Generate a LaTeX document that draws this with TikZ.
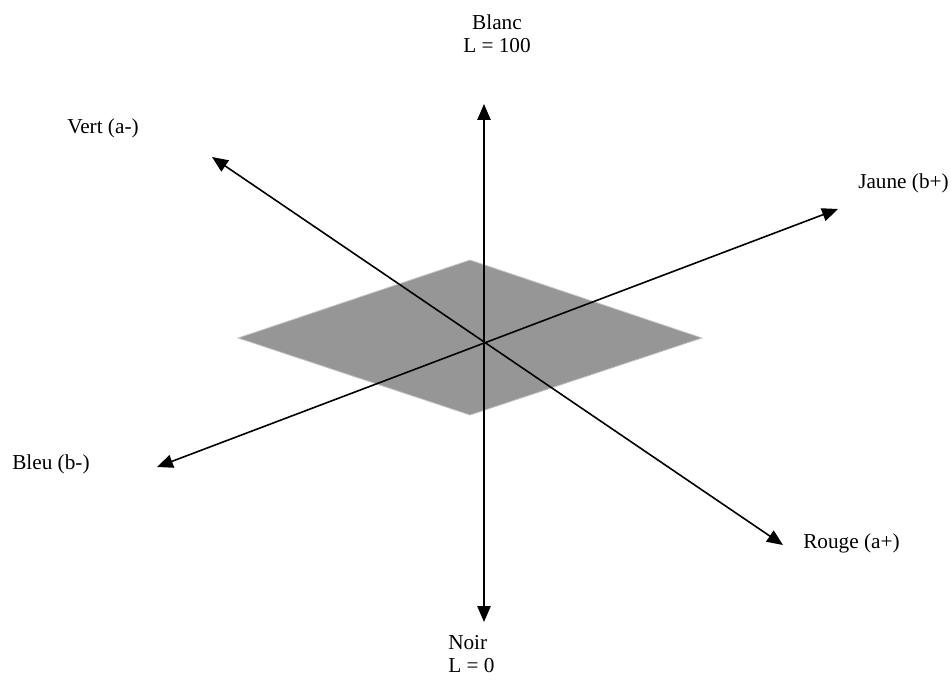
\documentclass[tikz,border=0pt]{standalone}
\usepackage{fontspec}
\setmainfont{Liberation Serif}
\usetikzlibrary{arrows.meta}

\begin{document}
\begin{tikzpicture}[x=0.02646cm, y=-0.02646cm,
    every node/.style={font=\fontsize{16}{17}\selectfont, inner sep=0pt, align=center},
    axe/.style={line width=1.2pt, {Triangle[length=12pt, width=10pt]}-{Triangle[length=12pt, width=10pt]}}]
    \useasboundingbox (0,0) rectangle (951,679);
    % plan a-b
    \filldraw[fill=black!41, draw=black!22, line width=0.6pt]
        (238,338) -- (470,260) -- (702,338) -- (470,415) -- cycle;
    % bouts des axes
    \coordinate (o) at (484,343);
    \coordinate (haut) at (484,104);
    \coordinate (bas) at (484,622);
    \coordinate (pvert) at (212,157);
    \coordinate (prouge) at (783,545);
    \coordinate (pbleu) at (157,467);
    \coordinate (pjaune) at (838,209);
    \draw[axe] (bas) -- (haut);
    \draw[axe] (pvert) -- (prouge);
    \draw[axe] (pbleu) -- (pjaune);
    % etiquettes
    \node (blanc) at (497,34) {Blanc\\L = 100};
    \node[align=left, anchor=west] (noir) at (448,654) {Noir\\L = 0};
    \node[anchor=west] (vert) at (67,128) {Vert (a-)};
    \node[anchor=west] (jaune) at (858,183) {Jaune (b+)};
    \node[anchor=west] (bleu) at (12,464) {Bleu (b-)};
    \node[anchor=west] (rouge) at (803,543) {Rouge (a+)};
\end{tikzpicture}
\end{document}
